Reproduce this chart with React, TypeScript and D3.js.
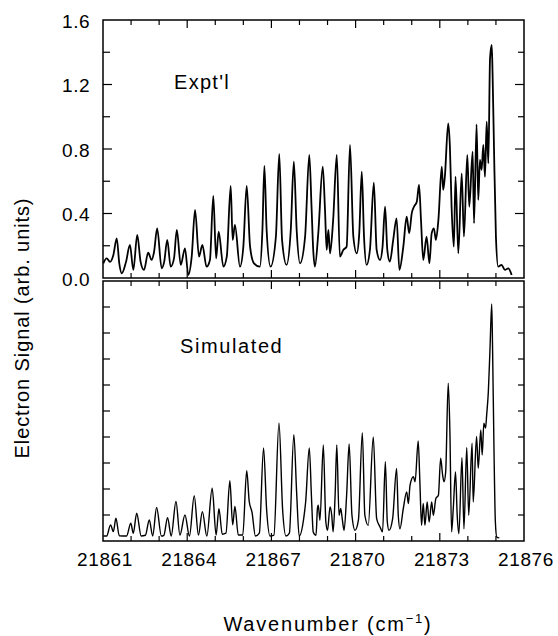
import { useEffect, useRef } from 'react';
import * as d3 from 'd3';

// Expt'l trace, [wavenumber (cm-1), signal (arb. units)]
const exptSpectrum: [number, number][] = [
  [21861.01, 0.091], [21861.13, 0.122], [21861.25, 0.10], [21861.37, 0.143],
  [21861.49, 0.246], [21861.58, 0.091], [21861.67, 0.029], [21861.82, 0.10],
  [21861.96, 0.205], [21862.08, 0.05], [21862.22, 0.267], [21862.34, 0.10],
  [21862.46, 0.05], [21862.61, 0.157], [21862.73, 0.112], [21862.82, 0.163],
  [21862.93, 0.308], [21863.09, 0.06], [21863.18, 0.10], [21863.29, 0.236],
  [21863.41, 0.07], [21863.53, 0.122], [21863.63, 0.298], [21863.77, 0.081],
  [21863.92, 0.184], [21864.04, 0.019], [21864.16, 0.132], [21864.28, 0.422],
  [21864.42, 0.132], [21864.54, 0.205], [21864.69, 0.07], [21864.81, 0.112],
  [21864.93, 0.509], [21865.03, 0.122], [21865.12, 0.287], [21865.29, 0.07],
  [21865.41, 0.132], [21865.55, 0.571], [21865.62, 0.236], [21865.70, 0.329],
  [21865.88, 0.07], [21866.00, 0.194], [21866.12, 0.571], [21866.24, 0.194],
  [21866.38, 0.091], [21866.59, 0.07], [21866.68, 0.298], [21866.75, 0.695],
  [21866.83, 0.298], [21866.97, 0.07], [21867.16, 0.256], [21867.28, 0.769],
  [21867.38, 0.236], [21867.54, 0.081], [21867.69, 0.298], [21867.80, 0.721],
  [21867.90, 0.298], [21868.02, 0.091], [21868.20, 0.256], [21868.35, 0.763],
  [21868.43, 0.442], [21868.49, 0.174], [21868.55, 0.07], [21868.67, 0.277],
  [21868.83, 0.69], [21868.91, 0.422], [21868.97, 0.174], [21869.03, 0.298],
  [21869.09, 0.153], [21869.20, 0.36], [21869.33, 0.763], [21869.44, 0.132],
  [21869.56, 0.174], [21869.68, 0.194], [21869.80, 0.825], [21869.92, 0.256],
  [21870.04, 0.153], [21870.13, 0.277], [21870.22, 0.659], [21870.30, 0.256],
  [21870.39, 0.081], [21870.51, 0.174], [21870.65, 0.591], [21870.75, 0.174],
  [21870.87, 0.112], [21870.96, 0.194], [21871.05, 0.442], [21871.13, 0.174],
  [21871.22, 0.101], [21871.34, 0.236], [21871.46, 0.37], [21871.56, 0.05],
  [21871.70, 0.194], [21871.82, 0.38], [21871.91, 0.277], [21872.00, 0.401],
  [21872.08, 0.442], [21872.18, 0.473], [21872.26, 0.577], [21872.33, 0.36],
  [21872.41, 0.112], [21872.53, 0.256], [21872.63, 0.091], [21872.71, 0.277],
  [21872.79, 0.308], [21872.86, 0.236], [21872.95, 0.36], [21873.07, 0.69],
  [21873.12, 0.546], [21873.18, 0.628], [21873.30, 0.959], [21873.36, 0.814],
  [21873.42, 0.442], [21873.50, 0.194], [21873.56, 0.628], [21873.66, 0.153],
  [21873.78, 0.649], [21873.86, 0.256], [21873.98, 0.763], [21874.05, 0.442],
  [21874.17, 0.783], [21874.22, 0.339], [21874.31, 0.953], [21874.37, 0.484],
  [21874.43, 0.732], [21874.49, 0.67], [21874.55, 0.825], [21874.61, 0.628],
  [21874.67, 0.97], [21874.73, 0.711], [21874.79, 1.362], [21874.85, 1.445],
  [21874.88, 1.269], [21874.93, 0.814], [21875.00, 0.256], [21875.08, 0.07],
  [21875.20, 0.081], [21875.32, 0.05], [21875.44, 0.06], [21875.56, 0.019],
];

// Simulated trace, [wavenumber (cm-1), signal (tick units)]
const simSpectrum: [number, number][] = [
  [21861.01, 0.19], [21861.13, 0.19], [21861.27, 0.62], [21861.37, 0.36],
  [21861.46, 0.875], [21861.58, 0.2], [21861.84, 0.19], [21861.99, 0.68],
  [21862.08, 0.30], [21862.20, 1.07], [21862.36, 0.19], [21862.51, 0.22],
  [21862.65, 0.81], [21862.77, 0.19], [21862.91, 1.29], [21863.08, 0.19],
  [21863.17, 0.22], [21863.30, 0.90], [21863.43, 0.19], [21863.60, 1.52],
  [21863.74, 0.23], [21863.92, 1.00], [21864.08, 0.19], [21864.25, 1.74],
  [21864.40, 0.23], [21864.54, 1.13], [21864.70, 0.19], [21864.89, 2.03],
  [21865.03, 0.23], [21865.13, 1.24], [21865.25, 0.26], [21865.38, 0.30],
  [21865.52, 2.32], [21865.62, 0.62], [21865.70, 1.33], [21865.82, 0.23],
  [21865.98, 0.23], [21866.12, 2.70], [21866.21, 1.52], [21866.31, 1.1],
  [21866.43, 0.19], [21866.57, 0.30], [21866.72, 3.58], [21866.83, 1.2],
  [21866.95, 0.19], [21867.09, 0.23], [21867.27, 4.54], [21867.40, 1.2],
  [21867.52, 0.19], [21867.64, 0.30], [21867.80, 4.09], [21867.90, 1.84],
  [21867.99, 0.19], [21868.16, 0.94], [21868.22, 1.5], [21868.35, 3.58],
  [21868.43, 1.63], [21868.49, 0.35], [21868.59, 0.22], [21868.64, 1.25],
  [21868.67, 1.38], [21868.73, 0.80], [21868.85, 3.69], [21868.94, 0.73],
  [21869.00, 0.41], [21869.09, 1.31], [21869.15, 0.99], [21869.20, 0.35],
  [21869.27, 1.76], [21869.33, 3.69], [21869.41, 0.99], [21869.47, 1.25],
  [21869.53, 0.80], [21869.59, 0.41], [21869.68, 1.76], [21869.77, 3.73],
  [21869.87, 0.99], [21869.98, 0.41], [21870.10, 0.80], [21870.24, 4.17],
  [21870.33, 0.99], [21870.45, 0.60], [21870.63, 4.00], [21870.75, 0.86],
  [21870.87, 0.54], [21870.96, 0.35], [21871.06, 3.05], [21871.13, 0.73],
  [21871.19, 0.41], [21871.32, 0.86], [21871.46, 2.79], [21871.52, 0.99],
  [21871.58, 0.47], [21871.70, 1.25], [21871.82, 1.89], [21871.88, 1.44],
  [21871.94, 2.15], [21872.06, 2.47], [21872.12, 2.28], [21872.23, 3.85],
  [21872.29, 2.28], [21872.35, 0.60], [21872.41, 1.44], [21872.47, 0.60],
  [21872.55, 1.50], [21872.62, 0.73], [21872.71, 1.50], [21872.77, 0.99],
  [21872.86, 1.63], [21872.95, 1.76], [21873.03, 3.18], [21873.10, 2.54],
  [21873.15, 2.28], [21873.21, 2.67], [21873.30, 6.07], [21873.36, 4.21],
  [21873.42, 0.35], [21873.48, 1.25], [21873.56, 2.66], [21873.62, 0.99],
  [21873.68, 0.28], [21873.79, 3.20], [21873.86, 0.47], [21873.96, 3.60],
  [21874.03, 0.99], [21874.15, 3.76], [21874.19, 1.50], [21874.31, 4.02],
  [21874.37, 2.80], [21874.46, 4.27], [21874.51, 3.31], [21874.57, 4.53],
  [21874.63, 4.34], [21874.67, 4.85], [21874.73, 5.75], [21874.79, 7.43],
  [21874.85, 9.12], [21874.88, 7.43], [21874.93, 3.57], [21874.98, 0.73],
  [21875.03, 0.15], [21875.12, 0.12],
];

const xTickLabels = [21861, 21864, 21867, 21870, 21873, 21876];
const exptYTickLabels = [0.0, 0.4, 0.8, 1.2, 1.6];

const FONT = '"Liberation Sans", Arial, Helvetica, sans-serif';

export default function App() {
  const svgRef = useRef<SVGSVGElement>(null);

  useEffect(() => {
    if (!svgRef.current) return;

    const svg = d3.select(svgRef.current);
    svg.selectAll('*').remove();

    const left = 103;
    const right = 524;

    const x = d3.scaleLinear().domain([21861, 21876]).range([left, right]);
    const yTop = d3.scaleLinear().domain([0, 1.6]).range([278, 20]);
    const yBot = d3.scaleLinear().domain([0, 10]).range([541, 281]);

    const xMinor = d3.range(21862, 21876);
    const isMajorX = (v: number) => (v - 21861) % 3 === 0;

    // panel frame + inward ticks
    const drawPanel = (
      y: d3.ScaleLinear<number, number>,
      yTicks: number[],
      isMajorY: (v: number) => boolean,
    ) => {
      const [y0, y1] = y.range();
      const g = svg.append('g');

      g.append('rect')
        .attr('x', left)
        .attr('y', y1)
        .attr('width', right - left)
        .attr('height', y0 - y1)
        .attr('fill', 'none')
        .attr('stroke', '#000')
        .attr('stroke-width', 1.5);

      // x ticks: bottom edge (pointing up) and top edge (pointing down)
      g.selectAll('line.xb')
        .data(xMinor)
        .join('line')
        .attr('class', 'xb')
        .attr('x1', d => x(d))
        .attr('x2', d => x(d))
        .attr('y1', y0)
        .attr('y2', d => y0 - (isMajorX(d) ? 8 : 5))
        .attr('stroke', '#000')
        .attr('stroke-width', 1.2);

      g.selectAll('line.xt')
        .data(xMinor)
        .join('line')
        .attr('class', 'xt')
        .attr('x1', d => x(d))
        .attr('x2', d => x(d))
        .attr('y1', y1)
        .attr('y2', d => y1 + (isMajorX(d) ? 8 : 5))
        .attr('stroke', '#000')
        .attr('stroke-width', 1.2);

      // y ticks both sides
      g.selectAll('line.yl')
        .data(yTicks)
        .join('line')
        .attr('class', 'yl')
        .attr('x1', left)
        .attr('x2', d => left + (isMajorY(d) ? 9 : 7))
        .attr('y1', d => y(d))
        .attr('y2', d => y(d))
        .attr('stroke', '#000')
        .attr('stroke-width', 1.2);

      g.selectAll('line.yr')
        .data(yTicks)
        .join('line')
        .attr('class', 'yr')
        .attr('x1', right)
        .attr('x2', d => right - (isMajorY(d) ? 9 : 6))
        .attr('y1', d => y(d))
        .attr('y2', d => y(d))
        .attr('stroke', '#000')
        .attr('stroke-width', 1.2);
    };

    drawPanel(
      yTop,
      d3.range(1, 8).map(i => i * 0.2),
      v => Math.abs(v / 0.4 - Math.round(v / 0.4)) < 1e-6,
    );
    drawPanel(yBot, d3.range(1, 10), () => false);

    // spectra
    const lineTop = d3.line<[number, number]>()
      .x(d => x(d[0]))
      .y(d => yTop(d[1]))
      .curve(d3.curveMonotoneX);

    const lineBot = d3.line<[number, number]>()
      .x(d => x(d[0]))
      .y(d => yBot(d[1]))
      .curve(d3.curveMonotoneX);

    svg.append('path')
      .datum(exptSpectrum)
      .attr('d', lineTop)
      .attr('fill', 'none')
      .attr('stroke', '#000')
      .attr('stroke-width', 1.8)
      .attr('stroke-linejoin', 'round');

    svg.append('path')
      .datum(simSpectrum)
      .attr('d', lineBot)
      .attr('fill', 'none')
      .attr('stroke', '#000')
      .attr('stroke-width', 1.4)
      .attr('stroke-linejoin', 'round');

    // tick labels
    svg.append('g')
      .selectAll('text')
      .data(exptYTickLabels)
      .join('text')
      .attr('x', 90)
      .attr('y', d => yTop(d) + 1)
      .attr('dy', '0.35em')
      .attr('text-anchor', 'end')
      .style('font-family', FONT)
      .style('font-size', '19px')
      .style('letter-spacing', '0.5px')
      .text(d => d.toFixed(1));

    svg.append('g')
      .selectAll('text')
      .data(xTickLabels)
      .join('text')
      .attr('x', d => x(d) + 2)
      .attr('y', 566)
      .attr('text-anchor', 'middle')
      .style('font-family', FONT)
      .style('font-size', '19px')
      .style('letter-spacing', '0.6px')
      .text(d => d.toString());

    // panel labels
    svg.append('text')
      .attr('x', 174)
      .attr('y', 89)
      .style('font-family', FONT)
      .style('font-size', '20px')
      .style('letter-spacing', '1.3px')
      .text("Expt'l");

    svg.append('text')
      .attr('x', 180)
      .attr('y', 353)
      .style('font-family', FONT)
      .style('font-size', '20px')
      .style('letter-spacing', '1.6px')
      .text('Simulated');

    // axis titles
    svg.append('text')
      .attr('transform', 'translate(29,328) rotate(-90)')
      .attr('text-anchor', 'middle')
      .style('font-family', FONT)
      .style('font-size', '20px')
      .style('letter-spacing', '0.9px')
      .text('Electron Signal (arb. units)');

    const xt = svg.append('text')
      .attr('x', 328)
      .attr('y', 631)
      .attr('text-anchor', 'middle')
      .style('font-family', FONT)
      .style('font-size', '20px')
      .style('letter-spacing', '1.8px');
    xt.append('tspan').text('Wavenumber (cm');
    xt.append('tspan').attr('dy', -8).style('font-size', '13px').text('\u22121');
    xt.append('tspan').attr('dy', 8).text(')');
  }, []);

  return (
    <svg
      ref={svgRef}
      width={558}
      height={636}
      style={{ position: 'absolute', left: 0, top: 0, background: '#fff' }}
    />
  );
}
